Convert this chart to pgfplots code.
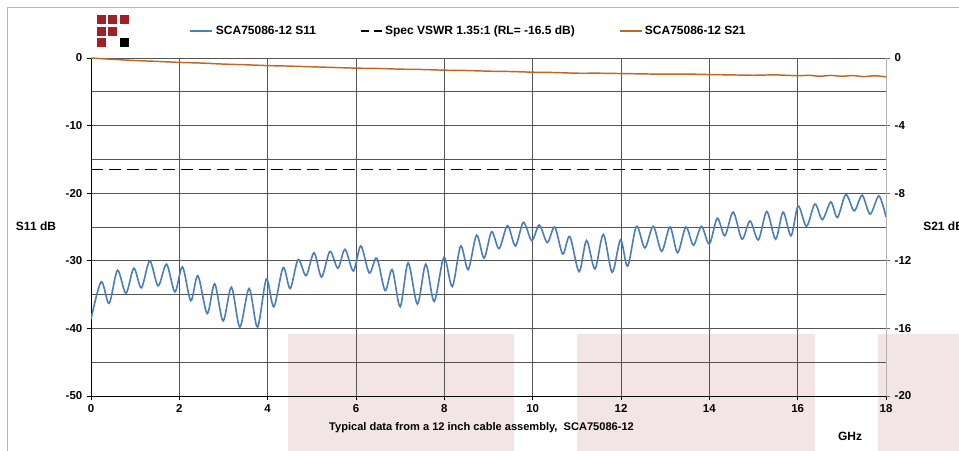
\documentclass[border=0pt]{standalone}
\usepackage{pgfplots}
\pgfplotsset{compat=1.18}
\usepackage{fontspec}
\setmainfont{Liberation Sans}

\definecolor{sblue}{RGB}{74,126,187}
\definecolor{sorange}{RGB}{190,105,35}
\definecolor{gridc}{RGB}{85,85,85}
\definecolor{pinkbg}{RGB}{243,228,229}
\definecolor{logored}{RGB}{160,32,40}

\pgfplotstableread{
f s11
0.00 -38.6
0.23 -33.1
0.41 -36.3
0.60 -31.4
0.79 -34.8
0.97 -31.1
1.14 -34.0
1.33 -30.0
1.52 -33.7
1.71 -30.5
1.90 -34.6
2.07 -30.9
2.26 -35.9
2.42 -32.2
2.63 -37.8
2.80 -33.4
2.99 -38.9
3.18 -33.9
3.37 -39.8
3.58 -34.1
3.77 -39.8
3.97 -32.7
4.14 -36.8
4.35 -31.0
4.51 -34.1
4.69 -29.8
4.87 -32.2
5.05 -28.8
5.22 -32.4
5.41 -28.6
5.59 -31.1
5.75 -28.3
5.94 -31.5
6.11 -27.8
6.30 -31.8
6.47 -29.6
6.66 -34.4
6.82 -31.3
7.00 -36.8
7.18 -30.3
7.39 -36.4
7.58 -30.5
7.77 -36.0
7.99 -29.5
8.18 -33.8
8.37 -27.8
8.54 -31.3
8.73 -26.2
8.90 -29.6
9.07 -25.7
9.24 -28.2
9.43 -24.8
9.61 -27.8
9.79 -24.3
9.98 -27.0
10.15 -24.7
10.33 -27.3
10.50 -25.0
10.68 -29.0
10.84 -26.4
11.05 -31.6
11.22 -27.0
11.41 -31.2
11.60 -26.1
11.80 -31.7
11.99 -26.9
12.15 -30.8
12.35 -24.9
12.54 -28.1
12.73 -24.9
12.92 -28.6
13.11 -25.0
13.28 -28.8
13.47 -25.0
13.64 -27.7
13.82 -24.9
14.00 -27.5
14.18 -23.7
14.35 -26.3
14.54 -22.8
14.74 -26.8
14.92 -24.1
15.11 -26.9
15.30 -22.7
15.50 -26.8
15.67 -22.8
15.85 -26.3
16.01 -21.9
16.20 -24.9
16.39 -21.6
16.56 -23.9
16.75 -21.3
16.90 -23.6
17.09 -20.2
17.28 -22.6
17.46 -20.3
17.64 -23.1
17.84 -20.4
18.00 -23.5
}\sone

\pgfplotstableread{
f s21
0.00 0.00
0.50 -0.08
1.00 -0.15
1.50 -0.20
2.00 -0.26
2.50 -0.30
3.00 -0.36
3.50 -0.40
4.00 -0.45
4.50 -0.48
5.00 -0.52
5.50 -0.56
6.00 -0.60
6.50 -0.62
7.00 -0.66
7.50 -0.68
8.00 -0.72
8.50 -0.74
9.00 -0.78
9.50 -0.80
10.00 -0.84
10.50 -0.86
11.00 -0.90
11.50 -0.90
12.00 -0.92
12.50 -0.94
13.00 -0.96
13.50 -0.95
14.00 -0.98
14.50 -1.00
15.00 -1.02
15.50 -1.00
16.00 -1.05
16.25 -1.02
16.50 -1.08
16.75 -1.03
17.00 -1.08
17.25 -1.04
17.50 -1.10
17.75 -1.05
18.00 -1.12
}\stwo

\begin{document}
\begin{tikzpicture}
\useasboundingbox (0,0) rectangle (719.25pt,-337.5pt);
\begin{scope}[x=0.75pt,y=-0.75pt]
\fill[pinkbg] (288,334) rectangle (514,460);
\fill[pinkbg] (577,334) rectangle (815,460);
\fill[pinkbg] (878,334) rectangle (980,460);
\draw[black!28, line width=0.75pt] (7,460) -- (7,7) -- (980,7);
\fill[logored] (97,15) rectangle (106,24);
\fill[logored] (108,15) rectangle (117,24);
\fill[logored] (120,15) rectangle (129,24);
\fill[logored] (97,27) rectangle (106,36);
\fill[logored] (108,27) rectangle (117,36);
\fill[logored] (97,38) rectangle (106,47);
\fill[black] (120,38) rectangle (129,47);
\end{scope}

\begin{axis}[
  at={(68.25pt,-297pt)}, anchor=south west, scale only axis,
  width=596.25pt, height=253.5pt,
  xmin=0, xmax=18, ymin=-50, ymax=0,
  axis x line*=bottom, axis y line*=left,
  x axis line style={-, black, line width=0.75pt},
  y axis line style={-, black, line width=0.75pt},
  xtick={0,2,...,18}, xticklabels={0,2,4,6,8,10,12,14,16,18},
  ytick={-50,-40,...,0}, yticklabels={-50,-40,-30,-20,-10,0},
  minor ytick={-45,-35,...,-5},
  grid=both,
  major grid style={gridc, line width=0.75pt},
  minor grid style={gridc, line width=0.75pt},
  tick align=outside, major tick length=3pt, minor tick length=0pt,
  tick style={black, line width=0.75pt},
  ticklabel style={font=\bfseries\fontsize{8.6}{10}\selectfont},
  legend columns=3,
  legend cell align=left,
  legend style={at={(0.4755,1.0799)}, anchor=center, draw=none, fill=none,
    inner sep=0pt,
    font=\bfseries\fontsize{9}{11}\selectfont,
    /tikz/every even column/.append style={column sep=31pt}},
  legend image code/.code={\draw[#1] (0pt,0pt) -- (16.5pt,0pt);},
]
\addplot[sblue, line width=1.2pt, smooth] table[x=f, y=s11] {\sone};
\addlegendentry{SCA75086-12 S11}
\addplot[black, line width=1.4pt, dash pattern=on 9pt off 4.5pt, forget plot] coordinates {(0,-16.5) (18,-16.5)};
\addlegendimage{legend image code/.code={\draw[black, line width=1.3pt, dash pattern=on 6pt off 3.5pt] (0pt,0pt) -- (15.5pt,0pt);}}
\addlegendentry{Spec VSWR 1.35:1 (RL= -16.5 dB)}
\addlegendimage{sorange, line width=1.1pt}
\addlegendentry{SCA75086-12 S21}
\end{axis}

\begin{axis}[
  at={(68.25pt,-297pt)}, anchor=south west, scale only axis,
  width=596.25pt, height=253.5pt,
  xmin=0, xmax=18, ymin=-20, ymax=0,
  axis x line=none, axis y line*=right,
  y axis line style={-, black!30, line width=0.75pt},
  ytick={-20,-16,...,0}, yticklabels={-20,-16,-12,-8,-4,0},
  tick align=outside, major tick length=3pt,
  tick style={black!60, line width=0.75pt},
  ticklabel style={font=\bfseries\fontsize{8.6}{10}\selectfont},
  clip=false,
]
\addplot[sorange, line width=1.1pt, smooth] table[x=f, y=s21] {\stwo};
\end{axis}

\begin{scope}[x=0.75pt,y=-0.75pt]
\node[font=\bfseries\fontsize{9}{11}\selectfont] at (36,226) {S11 dB};
\node[font=\bfseries\fontsize{9}{11}\selectfont, anchor=west, inner sep=0pt] at (923,226) {S21 dB};
\node[font=\bfseries\fontsize{8.3}{10}\selectfont] at (481.5,428) {Typical data from a 12 inch cable assembly,\ \ SCA75086-12};
\node[font=\bfseries\fontsize{9}{11}\selectfont] at (850,436) {GHz};
\end{scope}
\end{tikzpicture}
\end{document}
